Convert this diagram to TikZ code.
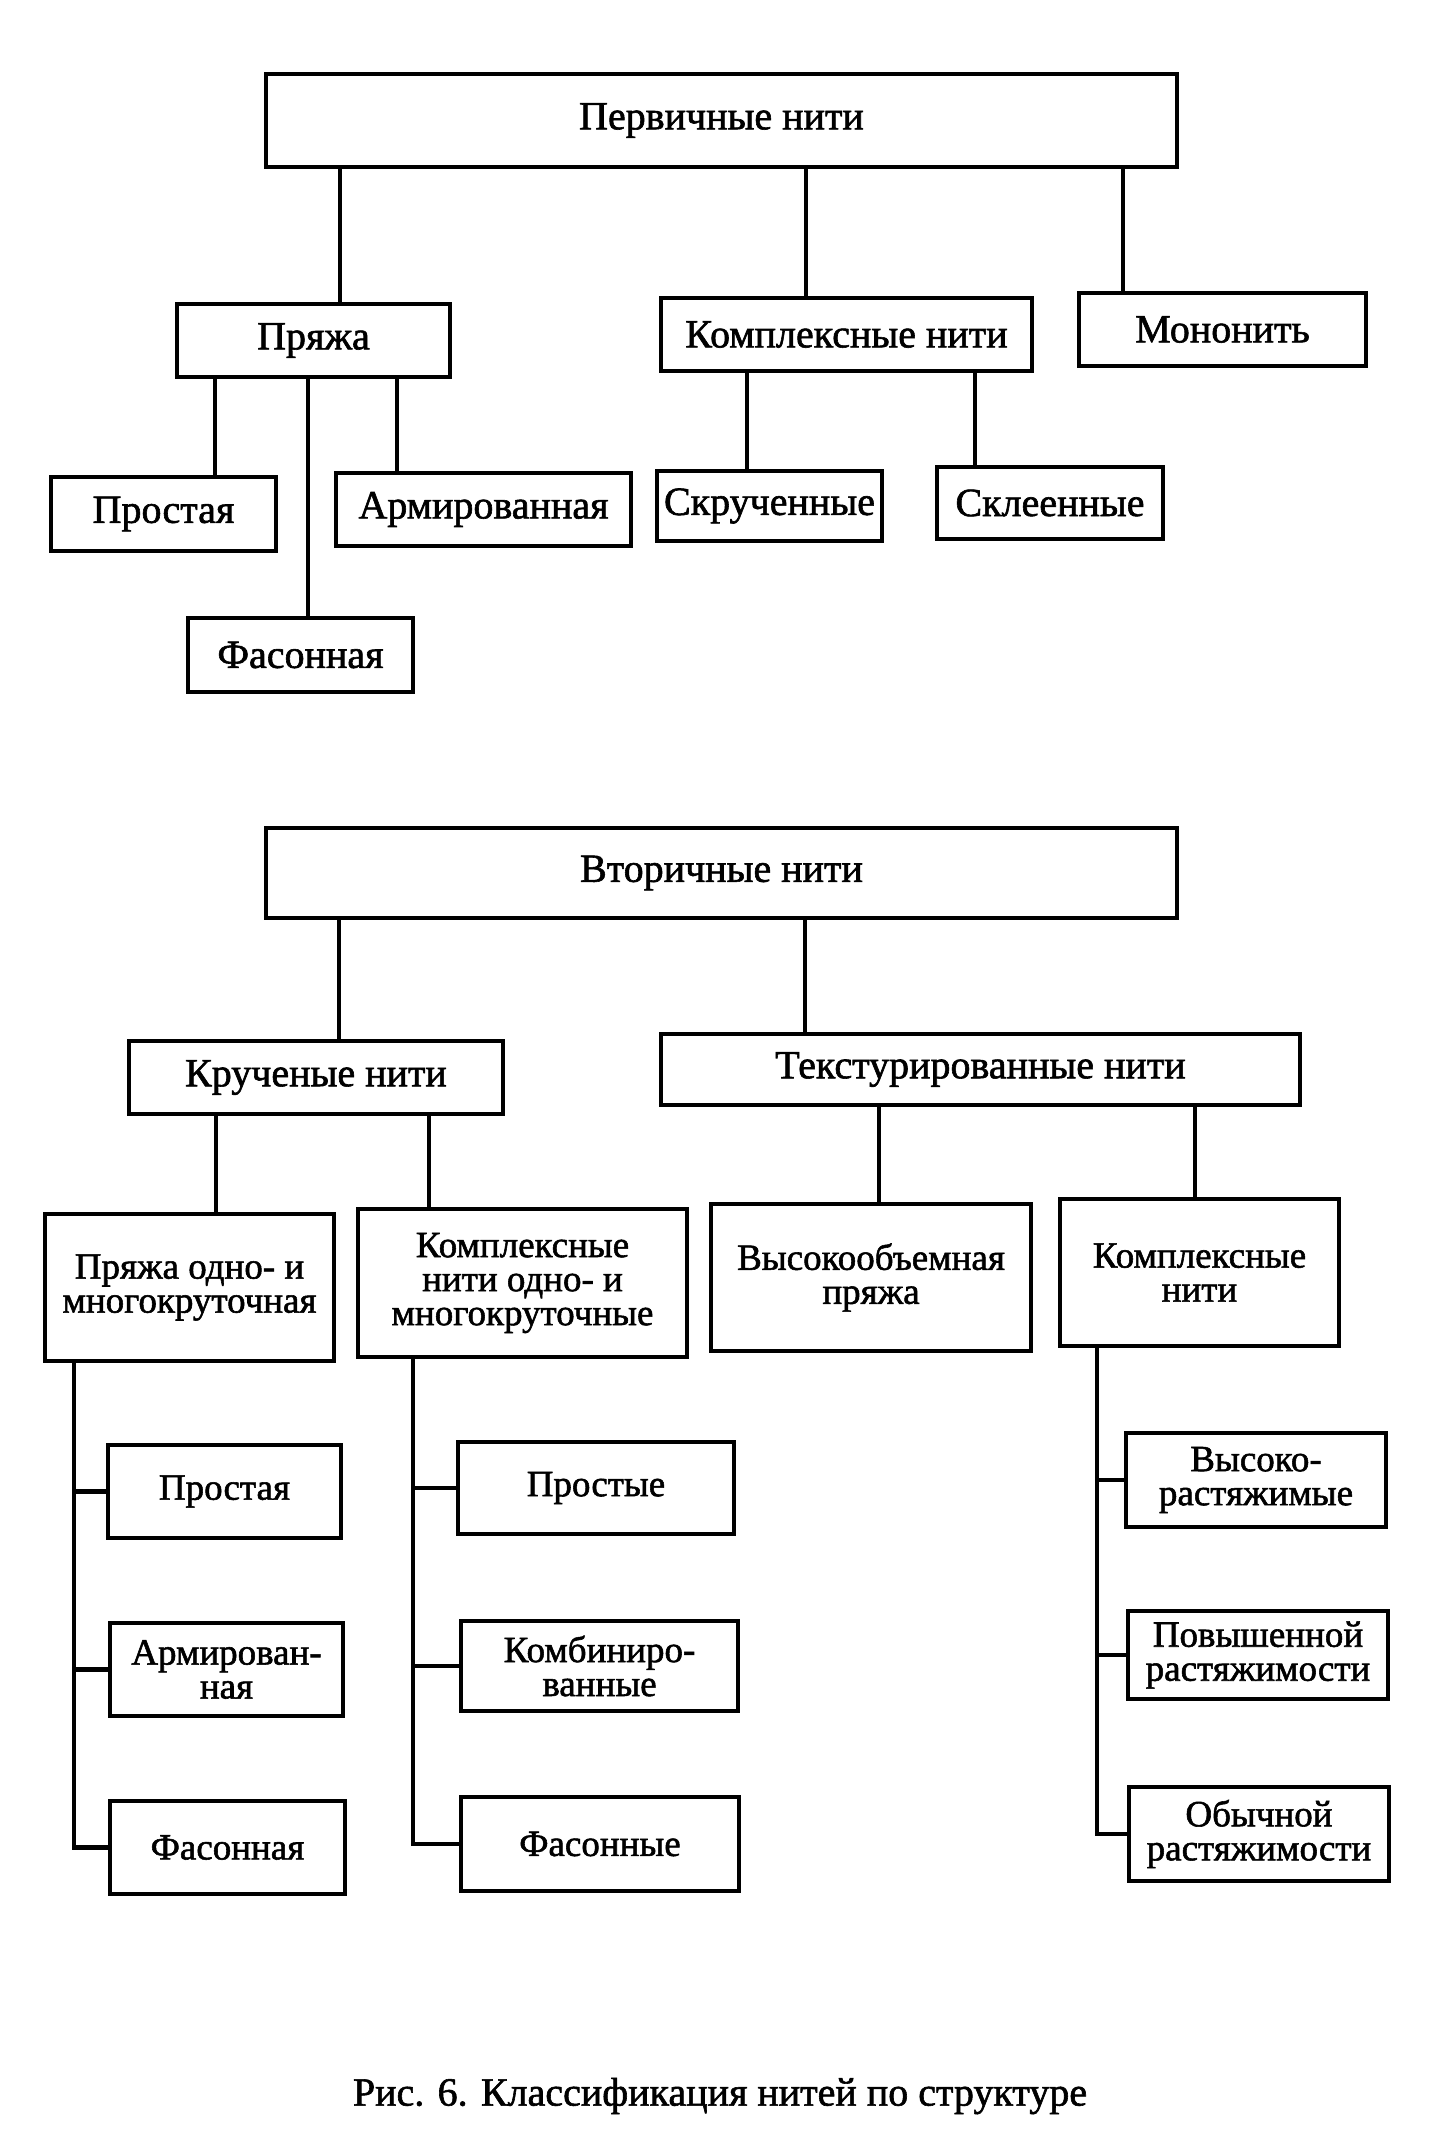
\documentclass[tikz,border=0pt]{standalone}
\usepackage{fontspec}
\setmainfont{Liberation Serif}[FakeBold=1.5]
\begin{document}
\begin{tikzpicture}[x=1pt,y=-1pt,
  box/.style={draw, line width=4.5pt, inner sep=0pt, align=center, font=\fontsize{40}{44}\selectfont},
  lbox/.style={box, font=\fontsize{37}{34}\selectfont},
  conn/.style={line width=4.5pt}]
\useasboundingbox (0,0) rectangle (1452,2151);
% ---------- primary ----------
\node[box, minimum width=911pt, minimum height=93pt] (P0) at (721.5,120.5) {Первичные нити};
\node[box, minimum width=273pt, minimum height=73pt] (P1) at (313.5,340.5) {Пряжа};
\node[box, minimum width=371pt, minimum height=73pt] (P2) at (846.5,334.5) {Комплексные нити};
\node[box, minimum width=287pt, minimum height=73pt] (P3) at (1222.5,329.5) {Мононить};
\node[box, minimum width=225pt, minimum height=74pt] (P4) at (163.5,514) {Простая};
\node[box, minimum width=295pt, minimum height=73pt] (P5) at (483.5,509.5) {Армированная};
\node[box, minimum width=225pt, minimum height=74pt] (P6) at (300.5,655) {Фасонная};
\node[box, minimum width=225pt, minimum height=70pt] (P7) at (769.5,506) {Скрученные};
\node[box, minimum width=226pt, minimum height=72pt] (P8) at (1050,503) {Склеенные};
\coordinate (a1) at (340,0);
\coordinate (a2) at (806,0);
\coordinate (a3) at (1123,0);
\coordinate (a4) at (215,0);
\coordinate (a5) at (397,0);
\coordinate (a6) at (308,0);
\coordinate (a7) at (747,0);
\coordinate (a8) at (975,0);
\draw[conn] (P0.south -| a1) -- (P1.north -| a1);
\draw[conn] (P0.south -| a2) -- (P2.north -| a2);
\draw[conn] (P0.south -| a3) -- (P3.north -| a3);
\draw[conn] (P1.south -| a4) -- (P4.north -| a4);
\draw[conn] (P1.south -| a5) -- (P5.north -| a5);
\draw[conn] (P1.south -| a6) -- (P6.north -| a6);
\draw[conn] (P2.south -| a7) -- (P7.north -| a7);
\draw[conn] (P2.south -| a8) -- (P8.north -| a8);
% ---------- secondary ----------
\node[box, minimum width=911pt, minimum height=90pt] (S0) at (721.5,873) {Вторичные нити};
\node[box, minimum width=374pt, minimum height=73pt] (S1) at (316,1077.5) {Крученые нити};
\node[box, minimum width=639pt, minimum height=71pt] (S2) at (980.5,1069.5) {Текстурированные нити};
\node[lbox, minimum width=289pt, minimum height=147pt] (S3) at (189.5,1287.5) {Пряжа одно- и\\многокруточная};
\node[lbox, minimum width=329pt, minimum height=148pt] (S4) at (522.5,1283) {Комплексные\\нити одно- и\\многокруточные};
\node[lbox, minimum width=320pt, minimum height=147pt] (S5) at (871,1277.5) {Высокообъемная\\пряжа};
\node[lbox, minimum width=279pt, minimum height=147pt] (S6) at (1199.5,1272.5) {Комплексные\\нити};
\coordinate (b1) at (339,0);
\coordinate (b2) at (805,0);
\coordinate (b3) at (216,0);
\coordinate (b4) at (429,0);
\coordinate (b5) at (879,0);
\coordinate (b6) at (1195,0);
\draw[conn] (S0.south -| b1) -- (S1.north -| b1);
\draw[conn] (S0.south -| b2) -- (S2.north -| b2);
\draw[conn] (S1.south -| b3) -- (S3.north -| b3);
\draw[conn] (S1.south -| b4) -- (S4.north -| b4);
\draw[conn] (S2.south -| b5) -- (S5.north -| b5);
\draw[conn] (S2.south -| b6) -- (S6.north -| b6);
% left column
\node[lbox, minimum width=233pt, minimum height=93pt] (L1) at (224.5,1491.5) {Простая};
\node[lbox, minimum width=233pt, minimum height=93pt] (L2) at (226.5,1669.5) {Армирован-\\ная};
\node[lbox, minimum width=235pt, minimum height=93pt] (L3) at (227.5,1847.5) {Фасонная};
\coordinate (t1) at (74,0);
\draw[conn] (S3.south -| t1) |- (L3.west);
\draw[conn] (t1 |- L1.west) -- (L1.west);
\draw[conn] (t1 |- L2.west) -- (L2.west);
% middle column
\node[lbox, minimum width=276pt, minimum height=92pt] (M1) at (596,1488) {Простые};
\node[lbox, minimum width=277pt, minimum height=90pt] (M2) at (599.5,1666) {Комбиниро-\\ванные};
\node[lbox, minimum width=278pt, minimum height=94pt] (M3) at (600,1844) {Фасонные};
\coordinate (t2) at (413,0);
\draw[conn] (S4.south -| t2) |- (M3.west);
\draw[conn] (t2 |- M1.west) -- (M1.west);
\draw[conn] (t2 |- M2.west) -- (M2.west);
% right column
\node[lbox, minimum width=260pt, minimum height=94pt] (R1) at (1256,1480) {Высоко-\\растяжимые};
\node[lbox, minimum width=260pt, minimum height=88pt] (R2) at (1258,1655) {Повышенной\\растяжимости};
\node[lbox, minimum width=260pt, minimum height=94pt] (R3) at (1259,1834) {Обычной\\растяжимости};
\coordinate (t3) at (1097,0);
\draw[conn] (S6.south -| t3) |- (R3.west);
\draw[conn] (t3 |- R1.west) -- (R1.west);
\draw[conn] (t3 |- R2.west) -- (R2.west);
% caption
\node[font=\fontsize{40}{44}\selectfont] (cap) at (720,2096) {Рис. 6. Классификация нитей по структуре};
\end{tikzpicture}
\end{document}
